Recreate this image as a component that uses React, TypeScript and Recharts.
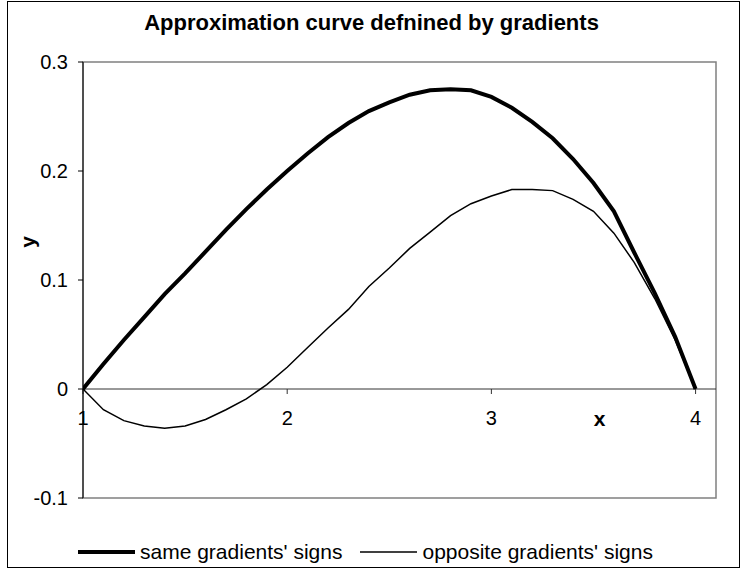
import React from "react";
import {
  LineChart,
  Line,
  XAxis,
  YAxis,
  ReferenceLine,
  ReferenceArea,
  ReferenceDot,
} from "recharts";

const xValues = [
  1.0, 1.1, 1.2, 1.3, 1.4, 1.5, 1.6, 1.7, 1.8, 1.9, 2.0, 2.1, 2.2, 2.3, 2.4, 2.5,
  2.6, 2.7, 2.8, 2.9, 3.0, 3.1, 3.2, 3.3, 3.4, 3.5, 3.6, 3.7, 3.8, 3.9, 4.0,
];

const sameSigns = [
  0, 0.023, 0.045, 0.066, 0.087, 0.106, 0.126, 0.146, 0.165, 0.183, 0.2, 0.216,
  0.231, 0.244, 0.255, 0.263, 0.27, 0.274, 0.275, 0.274, 0.268, 0.258, 0.245,
  0.23, 0.211, 0.189, 0.163, 0.125, 0.088, 0.048, 0,
];

const oppositeSigns = [
  0, -0.019, -0.029, -0.034, -0.036, -0.034, -0.028, -0.019, -0.009, 0.004, 0.02,
  0.038, 0.056, 0.073, 0.094, 0.111, 0.129, 0.144, 0.159, 0.17, 0.177, 0.183,
  0.183, 0.182, 0.174, 0.163, 0.143, 0.116, 0.083, 0.045, 0,
];

const xTicks = [1, 2, 3, 4];
const yTicks = [-0.1, 0, 0.1, 0.2, 0.3];

const seriesNames = ["same gradients' signs", "opposite gradients' signs"];
const seriesWidths = [4, 1.5];
const titleText = "Approximation curve defnined by gradients";

const data = xValues.map((x, i) => ({
  x,
  same: sameSigns[i],
  opposite: oppositeSigns[i],
}));

const FONT = "'Liberation Sans', Arial, sans-serif";

const YLabel = (props: any) => {
  const vb = props.viewBox || { x: 0, y: 0, width: 0, height: 0 };
  const cx = vb.x + 27;
  const cy = vb.y + vb.height / 2 - 38;
  return (
    <text
      x={cx}
      y={cy}
      transform={`rotate(-90, ${cx}, ${cy})`}
      textAnchor="middle"
      dominantBaseline="central"
      fontFamily={FONT}
      fontWeight="bold"
      fontSize={21}
      fill="#000"
    >
      y
    </text>
  );
};

export default function App() {
  return (
    <div
      style={{
        position: "absolute",
        left: 0,
        top: 0,
        width: 743,
        height: 571,
        background: "#fff",
        fontFamily: FONT,
      }}
    >
      <div
        style={{
          position: "absolute",
          left: 7,
          top: 1,
          width: 733,
          height: 567,
          border: "1px solid #000",
          boxSizing: "border-box",
        }}
      />
      <div
        style={{
          position: "absolute",
          left: 0,
          top: 9,
          width: 743,
          textAlign: "center",
          fontWeight: "bold",
          fontSize: 22,
          lineHeight: "28px",
          color: "#000",
        }}
      >
        {titleText}
      </div>
      <LineChart
        width={743}
        height={571}
        data={data}
        margin={{ top: 62, right: 27, left: 0, bottom: 73 }}
        style={{ position: "absolute", left: 0, top: 0 }}
      >
        <XAxis
          type="number"
          dataKey="x"
          domain={[1, 4.1]}
          ticks={xTicks}
          allowDataOverflow
          hide
        />
        <YAxis
          type="number"
          domain={[-0.1, 0.3]}
          ticks={yTicks}
          width={83}
          tickSize={5}
          tickMargin={10}
          axisLine={{ stroke: "#000", strokeWidth: 1 }}
          tickLine={{ stroke: "#000", strokeWidth: 1 }}
          tick={{ fontFamily: FONT, fontSize: 20, fill: "#000" }}
          tickFormatter={(v: number) => String(v)}
          label={<YLabel />}
        />
        <ReferenceArea
          x1={1}
          x2={4.1}
          y1={-0.1}
          y2={0.3}
          fill="none"
          stroke="#808080"
          strokeWidth={1.5}
          ifOverflow="visible"
        />
        <ReferenceLine y={0} stroke="#333" strokeWidth={1} />
        {xTicks.map((t) => (
          <ReferenceLine
            key={`tk${t}`}
            segment={[
              { x: t, y: 0 },
              { x: t, y: -0.0046 },
            ]}
            stroke="#333"
            strokeWidth={1}
          />
        ))}
        {xTicks.map((t) => (
          <ReferenceDot
            key={`tl${t}`}
            x={t}
            y={0}
            r={0}
            fill="none"
            stroke="none"
            label={{
              value: String(t),
              position: "bottom",
              offset: 22,
              fontFamily: FONT,
              fontSize: 20,
              fill: "#000",
            }}
          />
        ))}
        <ReferenceDot
          x={3.53}
          y={0}
          r={0}
          fill="none"
          stroke="none"
          label={{
            value: "x",
            position: "bottom",
            offset: 22,
            fontFamily: FONT,
            fontSize: 21,
            fontWeight: "bold",
            fill: "#000",
          }}
        />
        <Line
          type="linear"
          dataKey="same"
          name={seriesNames[0]}
          stroke="#000"
          strokeWidth={seriesWidths[0]}
          dot={false}
          isAnimationActive={false}
        />
        <Line
          type="linear"
          dataKey="opposite"
          name={seriesNames[1]}
          stroke="#000"
          strokeWidth={seriesWidths[1]}
          dot={false}
          isAnimationActive={false}
        />
      </LineChart>
      <div
        style={{
          position: "absolute",
          left: 78,
          top: 538,
          display: "flex",
          alignItems: "center",
          gap: 18,
          fontSize: 21,
          lineHeight: "28px",
          color: "#000",
        }}
      >
        {seriesNames.map((name, i) => (
          <div key={name} style={{ display: "flex", alignItems: "center" }}>
            <svg width={57} height={10} style={{ marginRight: 5 }}>
              <line x1={0} x2={57} y1={5} y2={5} stroke="#000" strokeWidth={seriesWidths[i]} />
            </svg>
            <span>{name}</span>
          </div>
        ))}
      </div>
    </div>
  );
}
